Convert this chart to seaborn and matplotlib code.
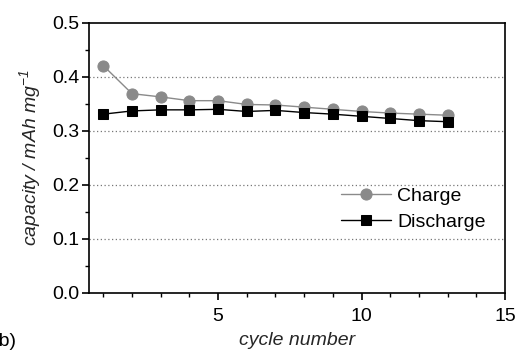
import matplotlib
matplotlib.use("Agg")
import matplotlib.pyplot as plt
import seaborn as sns
import pandas as pd
from matplotlib.ticker import MultipleLocator

cycles = list(range(1, 14))
charge = [0.421, 0.369, 0.363, 0.356, 0.356, 0.349, 0.348, 0.344, 0.340, 0.336, 0.333, 0.331, 0.329]
discharge = [0.331, 0.337, 0.339, 0.339, 0.340, 0.336, 0.338, 0.334, 0.331, 0.327, 0.323, 0.319, 0.317]

sns.set_theme(style="white")
plt.rcParams['font.family'] = ['Liberation Sans', 'DejaVu Sans']

fig = plt.figure(figsize=(5.17, 3.57), dpi=100)
ax = fig.add_axes([0.172, 0.180, 0.805, 0.7556])

df_c = pd.DataFrame({"cycle": cycles, "cap": charge})
df_d = pd.DataFrame({"cycle": cycles, "cap": discharge})

sns.lineplot(data=df_c, x="cycle", y="cap", ax=ax, color="#8a8a8a", marker="o",
             markersize=8, markeredgecolor="#8a8a8a", linewidth=1.0, label="Charge")
sns.lineplot(data=df_d, x="cycle", y="cap", ax=ax, color="#000000", marker="s",
             markersize=7.5, markeredgecolor="#000000", linewidth=1.0, label="Discharge")

ax.set_xlim(0.5, 15)
ax.set_ylim(0, 0.5)
ax.xaxis.set_minor_locator(MultipleLocator(1))
ax.yaxis.set_minor_locator(MultipleLocator(0.05))
ax.set_xticks([5, 10, 15])
ax.set_yticks([0.0, 0.1, 0.2, 0.3, 0.4, 0.5])
ax.set_yticklabels(["0.0", "0.1", "0.2", "0.3", "0.4", "0.5"])
ax.tick_params(axis="both", which="major", direction="out", length=5, width=1.2,
               labelsize=14, color="black", labelcolor="black", bottom=True, left=True)
ax.tick_params(axis="x", which="major", pad=6)
ax.tick_params(axis="y", which="major", pad=2)
ax.tick_params(axis="both", which="minor", direction="out", length=3, width=1.0,
               color="black", bottom=True, left=True)

for y in [0.1, 0.2, 0.3, 0.4]:
    ax.axhline(y, color="#777777", linestyle=(0, (1, 2)), linewidth=0.9, zorder=0)

for s in ax.spines.values():
    s.set_color("black")
    s.set_linewidth(1.2)

ax.set_xlabel("cycle number", fontsize=14, style="italic", labelpad=5)
ax.set_ylabel("capacity / mAh mg$^{\\mathregular{-1}}$", fontsize=14, style="italic", labelpad=6)

leg = ax.legend(loc="center left", bbox_to_anchor=(0.563, 0.31), frameon=False,
                fontsize=14, handlelength=2.6, handletextpad=0.3, labelspacing=0.45)
for t in leg.get_texts():
    t.set_color("black")

fig.text(-0.014, 0.03, "(b)", fontsize=14, color="black")

fig.savefig("out.png", dpi=100)
